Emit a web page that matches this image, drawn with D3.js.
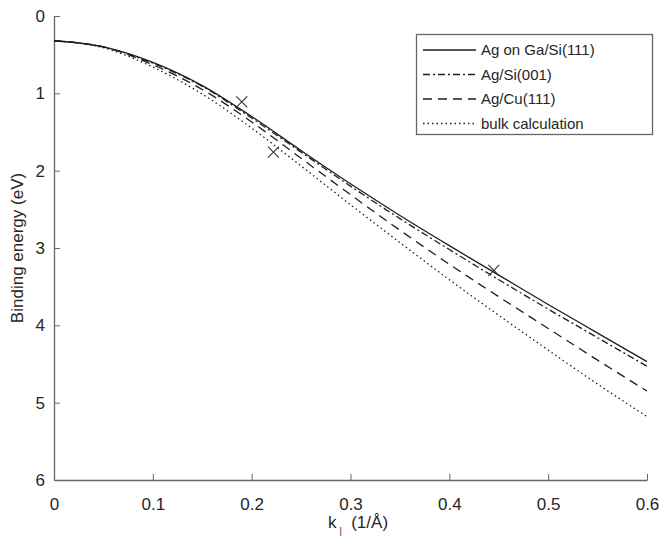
<!DOCTYPE html>
<html>
<head>
  <meta charset="UTF-8" />
  <title>Binding energy</title>
  <style>
    html, body { margin: 0; padding: 0; background: #fff; }
    svg { display: block; font-family: Arial, "Liberation Sans", sans-serif; }
  </style>
</head>
<body>
  <svg id="chart" width="663" height="543"></svg>
  <script src="https://d3js.org/d3.v7.min.js"></script>
  <script>
    // k values (1/Å)
    const kValues = [0, 0.05, 0.1, 0.15, 0.2, 0.25, 0.3, 0.35, 0.4, 0.45, 0.5, 0.55, 0.6];

    const agGaSi111 = [0.32, 0.40, 0.60, 0.90, 1.30, 1.74, 2.17, 2.58, 2.97, 3.35, 3.73, 4.10, 4.47];
    const agSi001   = [0.32, 0.40, 0.61, 0.91, 1.32, 1.76, 2.20, 2.62, 3.02, 3.41, 3.79, 4.16, 4.53];
    const agCu111   = [0.32, 0.40, 0.63, 0.95, 1.37, 1.84, 2.31, 2.77, 3.21, 3.63, 4.04, 4.45, 4.85];
    const bulkCalc  = [0.32, 0.41, 0.66, 1.01, 1.45, 1.94, 2.44, 2.93, 3.41, 3.87, 4.32, 4.76, 5.18];

    const seriesNames = ["Ag on Ga/Si(111)", "Ag/Si(001)", "Ag/Cu(111)", "bulk calculation"];
    const dashes = [null, "7,3,2,3", "9,6", "1.5,3"];

    // measured points (crosses)
    const markK = [0.19, 0.222, 0.445];
    const markE = [1.11, 1.76, 3.29];

    const xTicks = [0, 0.1, 0.2, 0.3, 0.4, 0.5, 0.6];
    const yTicks = [0, 1, 2, 3, 4, 5, 6];

    const svg = d3.select("#chart");
    const m = { left: 54, right: 647, top: 16, bottom: 480 };

    const x = d3.scaleLinear().domain([0, 0.6]).range([m.left, m.right]);
    const y = d3.scaleLinear().domain([0, 6]).range([m.top, m.bottom]);

    const axisColor = "#666";
    const textColor = "#262626";

    // axes (left + bottom only, ticks inward)
    const xAxis = svg.append("g")
      .attr("transform", `translate(0,${m.bottom})`)
      .call(d3.axisTop(x).tickValues(xTicks).tickSize(6).tickFormat(d => d === 0 ? "0" : d3.format(".1f")(d)).tickSizeOuter(0));
    xAxis.select(".domain").attr("stroke", axisColor).attr("stroke-width", 1.3);
    xAxis.selectAll(".tick line").attr("stroke", axisColor);
    xAxis.selectAll(".tick text").attr("y", 18).attr("dy", "0.71em")
      .attr("font-size", 17).attr("fill", textColor);

    const yAxis = svg.append("g")
      .attr("transform", `translate(${m.left},0)`)
      .call(d3.axisRight(y).tickValues(yTicks).tickSize(6).tickFormat(d3.format("d")).tickSizeOuter(0));
    yAxis.select(".domain").attr("stroke", axisColor).attr("stroke-width", 1.3);
    yAxis.selectAll(".tick line").attr("stroke", axisColor);
    yAxis.selectAll(".tick text").attr("x", -9).attr("text-anchor", "end")
      .attr("font-size", 17).attr("fill", textColor);

    // axis titles
    svg.append("text")
      .attr("transform", `translate(23,${(m.top + m.bottom) / 2}) rotate(-90)`)
      .attr("text-anchor", "middle")
      .attr("font-size", 17).attr("fill", textColor)
      .text("Binding energy (eV)");

    const xl = svg.append("text")
      .attr("x", 358).attr("y", 528)
      .attr("text-anchor", "middle")
      .attr("font-size", 17).attr("fill", textColor);
    xl.append("tspan").text("k");
    xl.append("tspan").attr("font-size", 9).attr("dy", 6).attr("dx", 3).text("|");
    xl.append("tspan").attr("dy", -6).text("\u00a0\u00a0(1/Å)");

    // curves
    const allSeries = [agGaSi111, agSi001, agCu111, bulkCalc];
    const line = d3.line()
      .x(d => x(d[0]))
      .y(d => y(d[1]))
      .curve(d3.curveMonotoneX);

    allSeries.forEach((vals, i) => {
      svg.append("path")
        .datum(kValues.map((k, j) => [k, vals[j]]))
        .attr("d", line)
        .attr("fill", "none")
        .attr("stroke", "#1e1e1e")
        .attr("stroke-width", 1.3)
        .attr("stroke-dasharray", dashes[i]);
    });

    // crosses
    const s = 5.5;
    markK.forEach((k, i) => {
      const cx = x(k), cy = y(markE[i]);
      svg.append("path")
        .attr("d", `M${cx - s},${cy - s}L${cx + s},${cy + s}M${cx - s},${cy + s}L${cx + s},${cy - s}`)
        .attr("stroke", "#333").attr("stroke-width", 1.1).attr("fill", "none");
    });

    // legend
    const lg = svg.append("g");
    lg.append("rect")
      .attr("x", 416.5).attr("y", 34.5).attr("width", 236).attr("height", 100)
      .attr("fill", "#fff").attr("stroke", "#666").attr("stroke-width", 1.3);
    seriesNames.forEach((name, i) => {
      const ly = 50 + i * 24.5;
      lg.append("line")
        .attr("x1", 423).attr("x2", 476).attr("y1", ly).attr("y2", ly)
        .attr("stroke", "#1e1e1e").attr("stroke-width", 1.3)
        .attr("stroke-dasharray", dashes[i]);
      lg.append("text")
        .attr("x", 481).attr("y", ly).attr("dy", "0.35em")
        .attr("font-size", 15).attr("fill", textColor)
        .text(name);
    });
  </script>
</body>
</html>
